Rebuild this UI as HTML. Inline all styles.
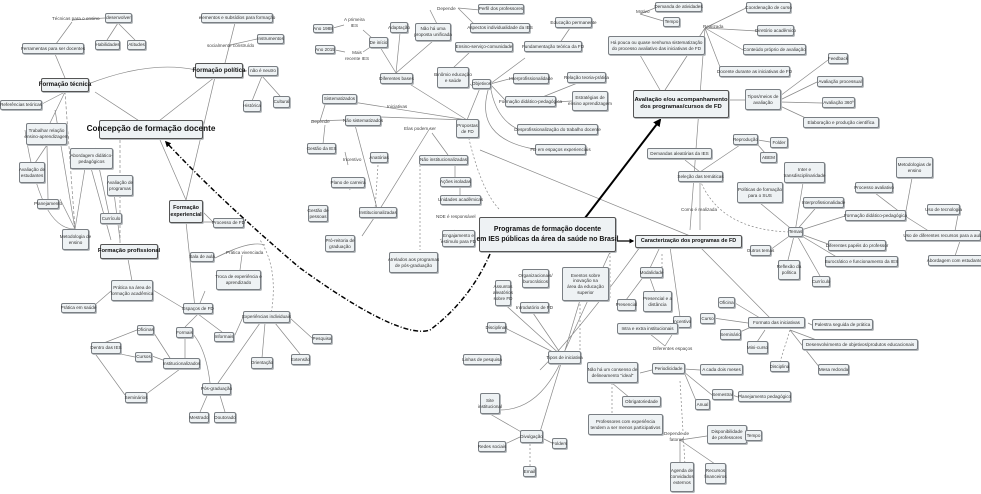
<!DOCTYPE html>
<html><head><meta charset="utf-8">
<style>
body{margin:0;width:981px;height:494px;background:#fff;position:relative;overflow:hidden;font-family:"Liberation Sans",sans-serif}
.b{position:absolute;border:1px solid #7a7f84;border-radius:2px;background:#eef2f4;font-size:4.6px;line-height:1.25;text-align:center;display:flex;align-items:center;justify-content:center;box-shadow:1px 1px 0 #b5b9bc;color:#333;box-sizing:border-box;padding:0 1px;white-space:nowrap}
.k{font-weight:bold;color:#111;border-color:#555}
.t{position:absolute;font-size:4.6px;color:#444;white-space:nowrap;line-height:1.2;text-align:center}
svg{position:absolute;left:0;top:0}
</style></head><body>
<svg width="981" height="494" viewBox="0 0 981 494">
<defs><marker id="a" markerWidth="4" markerHeight="4" refX="3" refY="2" orient="auto"><path d="M0,0L4,2L0,4z" fill="#333"/></marker>
<marker id="A" markerWidth="4" markerHeight="4" refX="3" refY="2" orient="auto"><path d="M0,0L4,2L0,4z" fill="#000"/></marker></defs>
<g stroke="#888" stroke-width="0.7" fill="none">
<path d="M72,20L105,18M118,23L107,40M118,23L135,40M53,48L72,22M65,78L55,54M65,92L50,123M65,92L40,105M88,84Q150,60 196,70M150,128L95,92M150,128L215,77M242,70L247,71M262,76L252,101M262,76L280,96M225,63L235,23M230,45L257,39M47,145L35,163M47,145L48,199M60,199L75,229M75,229L85,168M75,229L55,110M75,229Q40,230 25,130M91,168L111,240M113,185L120,240M111,224L95,148M186,200L215,77M186,200L160,140M202,211L213,222M186,222L213,222"/>
<path d="M75,229L65,92M120,140L120,245" stroke-dasharray="3,2"/>
<path d="M128,259L132,281M111,291L96,304M183,308L153,290M198,308L205,291M198,314L185,327M198,314L222,332M234,337L243,317M290,318L312,338M275,323L300,354M265,323L262,358M215,258L228,252M215,258Q250,240 265,245M185,332L185,358M163,360L152,356M170,358L152,330M91,348L137,330M91,348L135,357M91,348L125,395M180,369L145,395M210,389L200,412M218,389L225,412M218,383L260,323M185,327Q205,340 210,383M186,222L195,308M240,270L242,255"/>
<path d="M270,320Q280,270 260,240" stroke-dasharray="2,2"/>
<path d="M333,28L344,25M335,50L345,52M363,30L372,38M363,52L372,46M396,73L380,47M396,73L400,33M396,73L433,41M458,8L480,10M458,8L478,28M440,30L430,10M453,68L470,52M470,84L475,88M467,120L400,78M467,120L340,100M467,120L380,117M467,120L480,88M312,121L345,120M320,121L325,105M323,144L325,125M345,152L348,165M348,180L350,190M378,212L360,212M378,212L362,236M378,212L355,125M378,212L430,128M432,133L448,155M455,165L455,178M460,188L460,196"/>
<path d="M378,165L375,210M420,165L420,250M467,130Q480,190 500,210M440,240L455,230" stroke-dasharray="2,2"/>
<path d="M490,84L525,58M490,84L513,78M490,84L505,100M490,84Q495,120 520,130M490,84Q470,140 540,150M555,50L570,28M555,102L572,101M540,98L580,82M655,8L640,14M670,23L640,14M660,90L640,55M665,90L705,28M705,28L746,8M705,28L757,31M705,28L743,50M705,28L720,67M728,100L745,100M780,96L828,60M780,100L817,82M780,102L822,103M780,106L810,120M700,172L685,160M700,172L740,145M758,140L770,142M758,145L765,153M700,182L700,230M480,150L700,240M705,28L690,230"/>
<path d="M795,232L760,203M795,232L803,183M795,232L820,203M795,232L845,216M795,232L828,244M795,232L770,250M795,232L845,262M795,232L820,276M795,232L788,260M905,216L875,193M905,216L912,178M905,216L935,235M958,215L955,231M960,241L955,256"/>
<path d="M700,180Q720,230 790,232" stroke-dasharray="2,2"/>
<path d="M660,247L650,268M670,247L680,317M610,252L562,357M640,247Q580,330 540,370M650,268L626,300M650,278L655,292M680,322L665,346M665,346L650,334M700,247L770,318M748,323L713,318M760,318L730,300M760,323L740,332M765,330L757,342M808,323L812,325M790,330L830,345M790,330L820,368M563,357L505,328M563,357L500,300M563,357L533,313M563,357L580,300M563,357Q540,410 500,410M563,357L540,432M520,437L505,444M530,437L490,414M540,437L552,443M640,373L652,370M684,369L700,370M684,372L712,395M684,372L697,403M732,395L738,397M612,383L630,398M680,440L707,436M746,436L745,437M680,440L680,463M680,440L715,464"/>
<path d="M580,300L580,352M610,252L610,300M612,383L612,415M530,440L530,467M662,254L662,268M680,381L685,465M790,330L780,362" stroke-dasharray="2,2"/>
</g>
<path d="M585,218L660,120" stroke="#000" stroke-width="2" fill="none" marker-end="url(#A)"/>
<path d="M616,241L633,241" stroke="#000" stroke-width="1.2" fill="none" marker-end="url(#A)"/>
<path d="M490,254Q470,300 430,330Q400,340 300,268Q220,200 166,142" stroke="#000" stroke-width="1.5" stroke-dasharray="5,2,1,2" fill="none" marker-end="url(#A)"/>
</svg>

<div class="t" style="left:52px;top:16px">Técnicas para o ensino</div>
<div class="b" style="left:105px;top:13px;width:27px;height:10px">desenvolver</div>
<div class="b" style="left:95px;top:40px;width:25px;height:10px">Habilidades</div>
<div class="b" style="left:127px;top:40px;width:19px;height:10px">Atitudes</div>
<div class="b" style="left:22px;top:43px;width:62px;height:11px">Ferramentas para ser docentes</div>
<div class="b k" style="left:41px;top:78px;width:48px;height:14px;font-size:6.2px">Formação técnica</div>
<div class="b" style="left:0px;top:100px;width:42px;height:10px">Referências teóricas</div>
<div class="b" style="left:26px;top:123px;width:41px;height:22px">Trabalhar relação<br>ensino-aprendizagem</div>
<div class="b" style="left:19px;top:162px;width:26px;height:21px">Avaliação de<br>estudantes</div>
<div class="b" style="left:70px;top:148px;width:43px;height:21px">Abordagem didático-<br>pedagógicos</div>
<div class="b" style="left:107px;top:175px;width:26px;height:21px">Avaliação de<br>programas</div>
<div class="b" style="left:37px;top:199px;width:22px;height:10px">Planejamento</div>
<div class="b" style="left:100px;top:213px;width:22px;height:11px">Currículo</div>
<div class="b" style="left:62px;top:229px;width:27px;height:21px">Metodologia de<br>ensino</div>
<div class="b k" style="left:99px;top:120px;width:104px;height:19px;font-size:8.2px">Concepção de formação docente</div>
<div class="b k" style="left:195px;top:63px;width:48px;height:15px;font-size:6.2px">Formação política</div>
<div class="b" style="left:248px;top:66px;width:30px;height:10px">não é neutro</div>
<div class="b" style="left:243px;top:100px;width:18px;height:12px">Histórica</div>
<div class="b" style="left:273px;top:96px;width:17px;height:12px">Cultural</div>
<div class="b" style="left:201px;top:13px;width:72px;height:10px">elementos e subsídios para formação</div>
<div class="b" style="left:257px;top:34px;width:27px;height:10px">Instrumentos</div>
<div class="t" style="left:207px;top:43px">socialmente construído</div>
<div class="b k" style="left:169px;top:200px;width:34px;height:23px;font-size:5.4px">Formação<br>experiencial</div>
<div class="b" style="left:213px;top:218px;width:31px;height:10px">Processo de FD</div>
<div class="b k" style="left:100px;top:244px;width:58px;height:15px;font-size:5.8px">Formação profissional</div>

<div class="b" style="left:190px;top:252px;width:24px;height:10px">Sala de aula</div>
<div class="t" style="left:226px;top:250px">Prática vivenciada</div>
<div class="b" style="left:216px;top:270px;width:45px;height:20px">Troca de experiência e<br>aprendizado</div>
<div class="b" style="left:111px;top:280px;width:42px;height:21px">Prática na área de<br>formação acadêmica</div>
<div class="b" style="left:61px;top:303px;width:35px;height:10px">Prática em saúde</div>
<div class="b" style="left:183px;top:303px;width:30px;height:11px">Espaços de FD</div>
<div class="b" style="left:176px;top:327px;width:17px;height:11px">Formais</div>
<div class="b" style="left:214px;top:332px;width:20px;height:10px">Informais</div>
<div class="b" style="left:243px;top:311px;width:47px;height:12px">Experiências individuais</div>
<div class="b" style="left:312px;top:334px;width:20px;height:10px">Pesquisa</div>
<div class="b" style="left:291px;top:354px;width:19px;height:11px">Extensão</div>
<div class="b" style="left:251px;top:357px;width:22px;height:12px">Orientação</div>
<div class="b" style="left:137px;top:325px;width:17px;height:10px">Oficinas</div>
<div class="b" style="left:91px;top:342px;width:30px;height:12px">Dentro das IES</div>
<div class="b" style="left:135px;top:352px;width:17px;height:10px">Cursos</div>
<div class="b" style="left:163px;top:358px;width:37px;height:11px">Institucionalizados</div>
<div class="b" style="left:125px;top:392px;width:22px;height:11px">Seminários</div>
<div class="b" style="left:202px;top:383px;width:29px;height:12px">Pós-graduação</div>
<div class="b" style="left:189px;top:412px;width:20px;height:11px">Mestrado</div>
<div class="b" style="left:214px;top:412px;width:22px;height:11px">Doutorado</div>

<div class="b" style="left:313px;top:24px;width:20px;height:9px">Ano 1988</div>
<div class="b" style="left:315px;top:45px;width:20px;height:9px">Ano 2015</div>
<div class="t" style="left:344px;top:17px">A primeira<br>IES</div>
<div class="t" style="left:345px;top:50px">Mais<br>recente IES</div>
<div class="b" style="left:369px;top:37px;width:19px;height:11px">De início</div>
<div class="b" style="left:390px;top:22px;width:18px;height:11px">Adaptação</div>
<div class="b" style="left:415px;top:23px;width:36px;height:18px">Não há uma<br>proposta unificada</div>
<div class="b" style="left:380px;top:73px;width:33px;height:11px">Diferentes bases</div>
<div class="t" style="left:437px;top:6px">Depende</div>
<div class="b" style="left:478px;top:4px;width:46px;height:10px">Perfil dos professores</div>
<div class="b" style="left:470px;top:23px;width:60px;height:10px">Aspectos individualidade da IES</div>
<div class="b" style="left:455px;top:42px;width:58px;height:10px">Ensino-serviço-comunidade</div>
<div class="b" style="left:437px;top:67px;width:32px;height:21px">Binômio educação<br>e saúde</div>
<div class="b" style="left:472px;top:79px;width:19px;height:10px">Objetivos</div>
<div class="b" style="left:322px;top:94px;width:35px;height:10px">Sistematizados</div>
<div class="t" style="left:387px;top:104px">Iniciativas</div>
<div class="b" style="left:345px;top:115px;width:36px;height:11px">Não sistematizados</div>
<div class="t" style="left:311px;top:119px">Depende</div>
<div class="t" style="left:404px;top:126px">Elas podem ser</div>
<div class="b" style="left:456px;top:119px;width:23px;height:19px">Propostas<br>de FD</div>
<div class="b" style="left:307px;top:143px;width:29px;height:11px">Gestão da IES</div>
<div class="t" style="left:343px;top:157px">Incentivo</div>
<div class="b" style="left:370px;top:152px;width:18px;height:11px">Anatórias</div>
<div class="b" style="left:419px;top:155px;width:49px;height:10px">Não institucionalizadas</div>
<div class="b" style="left:440px;top:177px;width:31px;height:10px">Ações isoladas</div>
<div class="b" style="left:331px;top:177px;width:34px;height:11px">Plano de carreira</div>
<div class="b" style="left:440px;top:195px;width:41px;height:10px">Unidades acadêmicas</div>
<div class="b" style="left:308px;top:205px;width:20px;height:17px">Gestão de<br>pessoas</div>
<div class="b" style="left:359px;top:207px;width:38px;height:11px">Institucionalizadas</div>
<div class="t" style="left:436px;top:214px">NDE é responsável</div>
<div class="b" style="left:442px;top:230px;width:33px;height:17px">Engajamento e<br>estímulo para FD</div>
<div class="b" style="left:325px;top:235px;width:30px;height:17px">Pró-reitoria de<br>graduação</div>
<div class="b" style="left:389px;top:252px;width:49px;height:21px">Atrelados aos programas<br>de pós-graduação</div>

<div class="b" style="left:555px;top:17px;width:37px;height:11px">Educação permanente</div>
<div class="b" style="left:524px;top:41px;width:58px;height:11px">Fundamentação teórica da FD</div>
<div class="b" style="left:513px;top:73px;width:36px;height:11px">Interprofissionalidade</div>
<div class="b" style="left:567px;top:72px;width:39px;height:11px">Relação teoria-prática</div>
<div class="b" style="left:505px;top:96px;width:51px;height:11px">Formação didático-pedagógica</div>
<div class="b" style="left:572px;top:91px;width:36px;height:20px">Estratégias de<br>ensino aprendizagem</div>
<div class="b" style="left:517px;top:124px;width:81px;height:11px">Desprofissionalização do trabalho docente</div>
<div class="b" style="left:535px;top:144px;width:51px;height:11px">FD em espaços experienciais</div>
<div class="t" style="left:636px;top:9px">Motivo</div>
<div class="b" style="left:655px;top:2px;width:47px;height:10px">Demanda de atividades</div>
<div class="b" style="left:663px;top:17px;width:17px;height:10px">Tempo</div>
<div class="b" style="left:608px;top:36px;width:97px;height:19px">Há pouca ou quase nenhuma sistematização<br>do processo avaliativo das iniciativas de FD</div>
<div class="b k" style="left:633px;top:90px;width:96px;height:28px;font-size:5.9px">Avaliação e/ou acompanhamento<br>dos programas/cursos de FD</div>
<div class="t" style="left:703px;top:24px">Realizada</div>
<div class="b" style="left:746px;top:2px;width:45px;height:11px">Coordenação de curso</div>
<div class="b" style="left:757px;top:25px;width:37px;height:11px">Diretório acadêmico</div>
<div class="b" style="left:743px;top:44px;width:63px;height:11px">Conteúdo próprio de avaliação</div>
<div class="b" style="left:719px;top:66px;width:71px;height:11px">Docente durante as iniciativas de FD</div>
<div class="b" style="left:745px;top:89px;width:36px;height:21px">Tipos/meios de<br>avaliação</div>
<div class="b" style="left:828px;top:53px;width:20px;height:11px">Feedback</div>
<div class="b" style="left:817px;top:76px;width:46px;height:11px">Avaliação processual</div>
<div class="b" style="left:822px;top:97px;width:33px;height:11px">Avaliação 360º</div>
<div class="b" style="left:803px;top:117px;width:76px;height:11px">Elaboração e produção científica</div>
<div class="b" style="left:647px;top:148px;width:65px;height:11px">Demandas aleatórias da IES</div>
<div class="b" style="left:733px;top:134px;width:25px;height:11px">Reprodução</div>
<div class="b" style="left:770px;top:137px;width:18px;height:11px">Folder</div>
<div class="b" style="left:760px;top:152px;width:17px;height:11px">ABEM</div>
<div class="b" style="left:678px;top:171px;width:45px;height:11px">Seleção das temáticas</div>
<div class="t" style="left:681px;top:207px">Como é realizada</div>
<div class="b" style="left:784px;top:162px;width:41px;height:21px">Inter e<br>transdisciplinaridade</div>
<div class="b" style="left:737px;top:182px;width:46px;height:21px">Políticas de formação<br>para o SUS</div>
<div class="b" style="left:803px;top:197px;width:41px;height:11px">Interprofissionalidade</div>
<div class="b" style="left:788px;top:227px;width:15px;height:10px">Temas</div>
<div class="b" style="left:855px;top:182px;width:38px;height:11px">Processo avaliativo</div>
<div class="b" style="left:896px;top:157px;width:37px;height:21px">Metodologias de<br>ensino</div>
<div class="b" style="left:845px;top:210px;width:61px;height:11px">Formação didático-pedagógica</div>
<div class="b" style="left:927px;top:204px;width:33px;height:11px">Uso de tecnologia</div>
<div class="b" style="left:905px;top:230px;width:76px;height:11px">Uso de diferentes recursos para a aula</div>
<div class="b" style="left:828px;top:240px;width:58px;height:11px">Diferentes papéis do professor</div>
<div class="b k" style="left:479px;top:217px;width:137px;height:35px;font-size:6.9px;line-height:1.4">Programas de formação docente<br>em IES públicas da área da saúde no Brasil</div>
<div class="b k" style="left:635px;top:235px;width:107px;height:13px;font-size:5.4px">Caracterização dos programas de FD</div>

<div class="b" style="left:750px;top:245px;width:21px;height:11px">Outros temas</div>
<div class="b" style="left:778px;top:260px;width:22px;height:20px">Reflexão da<br>política</div>
<div class="b" style="left:825px;top:256px;width:73px;height:11px">Burocrático e funcionamento da IES</div>
<div class="b" style="left:812px;top:276px;width:18px;height:11px">Currículo</div>
<div class="b" style="left:928px;top:255px;width:55px;height:11px">Abordagem com estudantes</div>

<div class="b" style="left:495px;top:280px;width:16px;height:26px">Assuntos<br>aleatórios<br>sobre FD</div>
<div class="b" style="left:522px;top:269px;width:27px;height:19px">Organizacionais/<br>burocráticos</div>
<div class="b" style="left:562px;top:267px;width:47px;height:34px">Eventos sobre<br>inovação na<br>área da educação<br>superior</div>
<div class="b" style="left:520px;top:302px;width:29px;height:11px">Introdutório de FD</div>
<div class="b" style="left:487px;top:322px;width:19px;height:11px">Disciplinas</div>
<div class="b" style="left:548px;top:351px;width:33px;height:13px">Tipos de iniciativa</div>
<div class="b" style="left:463px;top:354px;width:38px;height:11px">Linhas de pesquisa</div>
<div class="b" style="left:640px;top:267px;width:23px;height:11px">Modalidade</div>
<div class="b" style="left:617px;top:299px;width:19px;height:12px">Presencial</div>
<div class="b" style="left:643px;top:291px;width:29px;height:21px">Presencial e a<br>distância</div>
<div class="b" style="left:673px;top:316px;width:18px;height:12px">Incentivo</div>
<div class="b" style="left:617px;top:323px;width:61px;height:11px">Intra e extra institucionais</div>
<div class="t" style="left:653px;top:346px">Diferentes espaços</div>
<div class="b" style="left:718px;top:297px;width:17px;height:11px">Oficina</div>
<div class="b" style="left:700px;top:313px;width:15px;height:11px">Curso</div>
<div class="b" style="left:748px;top:317px;width:57px;height:11px">Formato das iniciativas</div>
<div class="b" style="left:720px;top:329px;width:21px;height:11px">Seminário</div>
<div class="b" style="left:747px;top:341px;width:21px;height:13px">Mini-curso</div>
<div class="b" style="left:770px;top:361px;width:19px;height:11px">Disciplina</div>
<div class="b" style="left:812px;top:319px;width:61px;height:11px">Palestra seguida de prática</div>
<div class="b" style="left:802px;top:339px;width:116px;height:11px">Desenvolvimento de objetivos/produtos educacionais</div>
<div class="b" style="left:818px;top:364px;width:31px;height:11px">Mesa redonda</div>
<div class="b" style="left:587px;top:362px;width:51px;height:21px">Não há um consenso de<br>delineamento "ideal"</div>
<div class="b" style="left:652px;top:363px;width:33px;height:11px">Periodicidade</div>
<div class="b" style="left:700px;top:364px;width:43px;height:11px">A cada dois meses</div>
<div class="b" style="left:712px;top:389px;width:21px;height:11px">Semestral</div>
<div class="b" style="left:738px;top:391px;width:53px;height:11px">Planejamento pedagógico</div>
<div class="b" style="left:695px;top:399px;width:15px;height:11px">Anual</div>
<div class="b" style="left:622px;top:396px;width:39px;height:11px">Obrigatoriedade</div>
<div class="b" style="left:588px;top:414px;width:75px;height:21px">Professores com experiência<br>tendem a ser menos participativos</div>
<div class="t" style="left:664px;top:431px">Depende de<br>fatores</div>
<div class="b" style="left:707px;top:425px;width:40px;height:19px">Disponibilidade<br>de professores</div>
<div class="b" style="left:745px;top:430px;width:17px;height:11px">Tempo</div>
<div class="b" style="left:670px;top:462px;width:24px;height:30px">Agenda de<br>convidados<br>externos</div>
<div class="b" style="left:705px;top:463px;width:21px;height:21px">Recursos<br>financeiros</div>
<div class="b" style="left:480px;top:393px;width:20px;height:21px">Site<br>institucional</div>
<div class="b" style="left:520px;top:430px;width:23px;height:13px">Divulgação</div>
<div class="b" style="left:552px;top:438px;width:15px;height:11px">Folders</div>
<div class="b" style="left:478px;top:441px;width:28px;height:11px">Redes sociais</div>
<div class="b" style="left:523px;top:466px;width:13px;height:11px">Email</div>
</body></html>
